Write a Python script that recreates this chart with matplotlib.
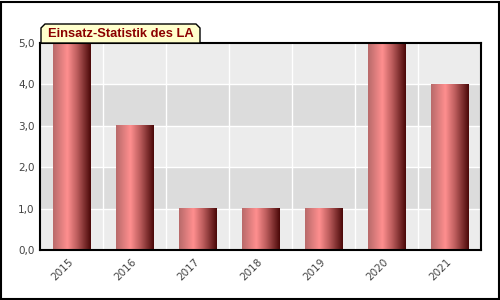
import matplotlib
matplotlib.use("Agg")
import matplotlib.pyplot as plt
import numpy as np
from matplotlib.colors import LinearSegmentedColormap
from matplotlib.patches import Polygon, Rectangle
from matplotlib.transforms import ScaledTranslation

categories = ["2015", "2016", "2017", "2018", "2019", "2020", "2021"]
values = [5, 3, 1, 1, 1, 5, 4]
yticks = [0, 1, 2, 3, 4, 5]
ytick_labels = ["0,0", "1,0", "2,0", "3,0", "4,0", "5,0"]
title = "Einsatz-Statistik des LA"

W, H = 500, 300
fig = plt.figure(figsize=(5, 3), dpi=100)
fig.patch.set_facecolor("white")

# outer border
fig.add_artist(Rectangle((0.5 / W, 1.5 / H), (W - 2) / W, (H - 3) / H,
                         transform=fig.transFigure, fill=False,
                         edgecolor="black", linewidth=1.5))

left, right, top, bottom = 40, 481, 43, 250
ax = fig.add_axes([left / W, 1 - bottom / H, (right - left) / W, (bottom - top) / H])
n = len(categories)
ax.set_xlim(0, n)
ax.set_ylim(0, 5)

# alternating bands
for i in range(5):
    ax.axhspan(i, i + 1, color="#ececec" if i % 2 == 0 else "#dcdcdc", zorder=0, lw=0)
for y in range(1, 5):
    ax.axhline(y, color="white", lw=1, zorder=1)
for x in range(1, n):
    ax.axvline(x, color="white", lw=1, zorder=1)

cmap = LinearSegmentedColormap.from_list(
    "bar", [(0.0, "#b86a6a"), (0.38, "#ff8f8f"), (0.65, "#b85a5a"), (1.0, "#4a0808")])
grad = np.linspace(0, 1, 256).reshape(1, -1)
bw = 0.6
for i, v in enumerate(values):
    x0 = i + 0.5 - bw / 2
    ax.imshow(grad, cmap=cmap, aspect="auto", extent=(x0, x0 + bw, 0, v),
              zorder=2, interpolation="bilinear")
ax.set_xlim(0, n)
ax.set_ylim(0, 5)

for s in ax.spines.values():
    s.set_color("black")
    s.set_linewidth(1.5)
    s.set_zorder(5)

ax.set_yticks(yticks)
ax.set_yticklabels(ytick_labels)
ax.set_xticks(np.arange(n) + 0.5)
ax.set_xticklabels(categories, rotation=45, ha="right", va="top", rotation_mode="anchor")
ax.tick_params(length=0, labelsize=7.5, labelcolor="#444444", pad=4)
ax.tick_params(axis="x", pad=5)
off = ScaledTranslation(-3 / 100, 0, fig.dpi_scale_trans)
for lab in ax.get_xticklabels():
    lab.set_transform(lab.get_transform() + off)

# title box
x1, x2, y1, y2, c = 41, 200, 24, 43, 4
pts = [(x1, y2), (x1, y1 + c), (x1 + c, y1), (x2 - c, y1), (x2, y1 + c), (x2, y2)]
fig.add_artist(Polygon([(px / W, 1 - py / H) for px, py in pts], closed=True,
                       transform=fig.transFigure, facecolor="#ffffcc",
                       edgecolor="black", linewidth=1))
fig.text((x1 + 7) / W, 1 - ((y1 + y2) / 2 + 0.5) / H, title, ha="left", va="center",
         fontsize=9.3, fontweight="bold", color="#8b0000", family="Liberation Sans")

fig.savefig("out.png", dpi=100)
